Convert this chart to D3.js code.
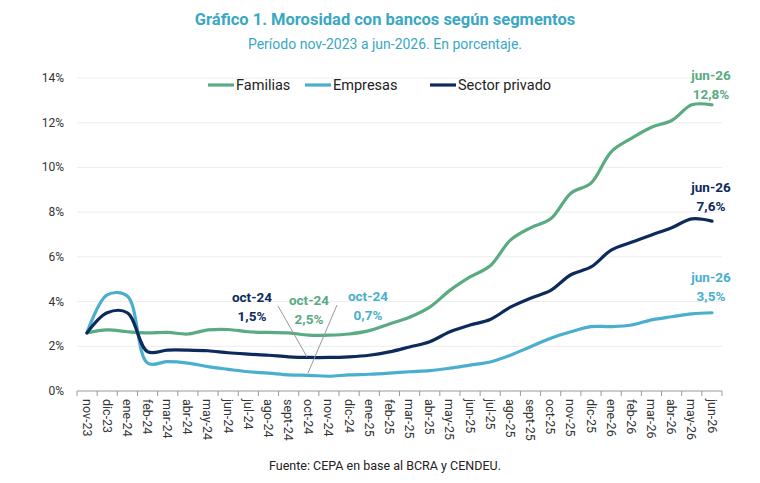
<!DOCTYPE html>
<html><head><meta charset="utf-8">
<script src="https://cdn.jsdelivr.net/npm/d3@7"></script>
<style>body{margin:0;background:#fff;font-family:Roboto,"Noto Sans",sans-serif}</style>
</head><body><div id="chart"></div>
<script>
var months = ["nov-23","dic-23","ene-24","feb-24","mar-24","abr-24","may-24","jun-24","jul-24","ago-24","sept-24","oct-24","nov-24","dic-24","ene-25","feb-25","mar-25","abr-25","may-25","jun-25","jul-25","ago-25","sept-25","oct-25","nov-25","dic-25","ene-26","feb-26","mar-26","abr-26","may-26","jun-26"];
var familias = [2.6,2.73,2.65,2.6,2.62,2.55,2.73,2.75,2.65,2.62,2.6,2.5,2.5,2.55,2.7,3.0,3.3,3.75,4.5,5.1,5.6,6.75,7.3,7.7,8.85,9.3,10.7,11.3,11.8,12.1,12.8,12.8];
var empresas = [2.6,4.3,4.25,1.25,1.31,1.25,1.09,0.97,0.86,0.8,0.72,0.7,0.66,0.72,0.75,0.8,0.86,0.91,1.02,1.16,1.3,1.6,1.98,2.36,2.65,2.88,2.88,2.95,3.18,3.32,3.45,3.5];
var privado = [2.6,3.5,3.5,1.76,1.83,1.83,1.8,1.71,1.65,1.6,1.53,1.5,1.5,1.53,1.6,1.75,1.97,2.2,2.65,2.95,3.2,3.75,4.15,4.5,5.2,5.55,6.3,6.65,6.98,7.3,7.7,7.6];
var yTicks = [0,2,4,6,8,10,12,14];
var series = [
  {name:"Familias", values:familias, color:"#5aaa82"},
  {name:"Empresas", values:empresas, color:"#4aaecf"},
  {name:"Sector privado", values:privado, color:"#0d2a5c"}
];

var W = 760, H = 483;
var svg = d3.select("#chart").append("svg").attr("width",W).attr("height",H);

var x = d3.scalePoint().domain(months).range([87,712]);
var xb = d3.scaleBand().domain(months).range([77,722]);
var y = d3.scaleLinear().domain([0,14]).range([391,78]);

// titles
svg.append("text").attr("x",385).attr("y",25).attr("text-anchor","middle")
  .attr("font-size",16.5).attr("font-weight","bold").attr("fill","#3aa7c4")
  .text("Gráfico 1. Morosidad con bancos según segmentos");
svg.append("text").attr("x",385).attr("y",49).attr("text-anchor","middle")
  .attr("font-size",14).attr("fill","#3aa7c4")
  .text("Período nov-2023 a jun-2026. En porcentaje.");

// grid + y labels
svg.append("g").selectAll("line").data(yTicks.slice(1)).join("line")
  .attr("x1",77).attr("x2",722).attr("y1",d=>y(d)).attr("y2",d=>y(d))
  .attr("stroke","#ececec");
svg.append("g").selectAll("text").data(yTicks).join("text")
  .attr("x",64).attr("y",d=>y(d)+4).attr("text-anchor","end")
  .attr("font-size",12).attr("fill","#333").text(d=>d+"%");

// x axis
svg.append("line").attr("x1",77).attr("x2",722).attr("y1",391).attr("y2",391).attr("stroke","#999");
var bounds = months.map(m=>xb(m)).concat([xb.range()[1]]);
svg.append("g").selectAll("line").data(bounds).join("line")
  .attr("x1",d=>d).attr("x2",d=>d).attr("y1",391).attr("y2",396).attr("stroke","#999");
svg.append("g").selectAll("text").data(months).join("text")
  .attr("transform",d=>"translate("+(x(d)-4.5)+",399) rotate(90)")
  .attr("font-size",12.5).attr("fill","#333").text(d=>d);

// lines
var line = d3.line().x((d,i)=>x(months[i])).y(d=>y(d)).curve(d3.curveCatmullRom.alpha(0.5));
series.forEach(s=>{
  svg.append("path").attr("d",line(s.values)).attr("fill","none")
    .attr("stroke",s.color).attr("stroke-width",3.2).attr("stroke-linecap","round");
});

// legend
var lx = [208,305,430];
series.forEach((s,i)=>{
  svg.append("line").attr("x1",lx[i]).attr("x2",lx[i]+26).attr("y1",85).attr("y2",85)
    .attr("stroke",s.color).attr("stroke-width",3.2);
  svg.append("text").attr("x",lx[i]+28).attr("y",90).attr("font-size",14.5).attr("fill","#222").text(s.name);
});

// leader lines
svg.append("line").attr("x1",278).attr("y1",306).attr("x2",307).attr("y2",357).attr("stroke","#999");
svg.append("line").attr("x1",337).attr("y1",305).attr("x2",308).attr("y2",373).attr("stroke","#999");

// annotations
function note(xp, y1, txt1, txt2, col){
  var t = svg.append("text").attr("text-anchor","middle").attr("font-size",13.5)
    .attr("font-weight","bold").attr("fill",col);
  t.append("tspan").attr("x",xp).attr("y",y1).text(txt1);
  t.append("tspan").attr("x",xp).attr("y",y1+19).text(txt2);
}
var oi = months.indexOf("oct-24"), li = months.length-1;
function fmt(v){ return d3.format(".1f")(v).replace(".",",")+"%"; }
note(252,302,"oct-24",fmt(privado[oi]),series[2].color);
note(309,305,"oct-24",fmt(familias[oi]),series[0].color);
note(368,301,"oct-24",fmt(empresas[oi]),series[1].color);
note(711,80,"jun-26",fmt(familias[li]),series[0].color);
note(711,192,"jun-26",fmt(privado[li]),series[2].color);
note(711,282,"jun-26",fmt(empresas[li]),series[1].color);

svg.append("text").attr("x",385).attr("y",470).attr("text-anchor","middle")
  .attr("font-size",12.5).attr("fill","#222").text("Fuente: CEPA en base al BCRA y CENDEU.");
</script></body></html>
